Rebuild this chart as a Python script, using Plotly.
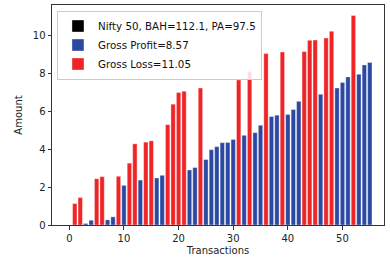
import plotly.graph_objects as go

# Cumulative gross profit (blue) and gross loss (red) at each transaction index
profit_idx = [3, 4, 7, 8, 10, 13, 16, 17, 22, 23, 25, 26, 27, 28, 29, 30, 32, 34, 35,
              37, 38, 40, 41, 42, 46, 49, 50, 51, 53, 54, 55]
profit_val = [0.08, 0.25, 0.27, 0.43, 2.09, 2.37, 2.48, 2.62, 2.90, 3.03, 3.45, 3.97, 4.13,
              4.34, 4.35, 4.51, 4.73, 4.87, 5.26, 5.72, 5.79, 5.83, 6.09, 6.52, 6.89, 7.22,
              7.52, 7.81, 7.95, 8.44, 8.57]
loss_idx = [1, 2, 5, 6, 9, 11, 12, 14, 15, 18, 19, 20, 21, 24, 31, 33, 36, 39, 43, 44,
            45, 47, 48, 52]
loss_val = [1.13, 1.45, 2.44, 2.55, 2.57, 3.26, 4.28, 4.37, 4.44, 5.29, 6.37, 6.99, 7.05,
            7.22, 7.65, 8.09, 9.04, 9.12, 9.15, 9.74, 9.75, 9.86, 10.21, 11.05]
bah_idx = [0]
bah_val = [0.0]

labels = ["Nifty 50, BAH=112.1, PA=97.5", "Gross Profit=8.57", "Gross Loss=11.05"]
x_ticks = [0, 10, 20, 30, 40, 50]
y_ticks = [0, 2, 4, 6, 8, 10]

FONT = "DejaVu Sans"
edge = dict(color="rgba(255,255,255,0.6)", width=0.6)

fig = go.Figure()
fig.add_trace(go.Bar(x=bah_idx, y=bah_val, width=0.8, name=labels[0],
                     marker=dict(color="black", line=edge)))
fig.add_trace(go.Bar(x=profit_idx, y=profit_val, width=0.8, name=labels[1],
                     marker=dict(color="#2b48a3", line=edge)))
fig.add_trace(go.Bar(x=loss_idx, y=loss_val, width=0.8, name=labels[2],
                     marker=dict(color="#ef2426", line=edge)))

fig.update_layout(
    width=390, height=261,
    margin=dict(l=52, r=6, t=5, b=36),
    barmode="overlay",
    plot_bgcolor="white", paper_bgcolor="white",
    font=dict(family=FONT, size=10, color="#222"),
    legend=dict(x=0.015, y=0.975, xanchor="left", yanchor="top",
                bgcolor="rgba(255,255,255,0.85)", bordercolor="#cccccc", borderwidth=1,
                font=dict(family=FONT, size=10.3, color="#111"),
                tracegroupgap=0, itemwidth=30),
    showlegend=True,
)
fig.update_xaxes(range=[-3.17, 57.6], tickvals=x_ticks, ticks="outside", ticklen=3.5,
                 tickcolor="#333", showline=True, linecolor="#333", linewidth=1, mirror=True,
                 showgrid=False, zeroline=False,
                 title=dict(text="Transactions", font=dict(family=FONT, size=10), standoff=4),
                 tickfont=dict(family=FONT, size=10))
fig.update_yaxes(range=[0, 11.6], tickvals=y_ticks, ticks="outside", ticklen=3.5,
                 tickcolor="#333", showline=True, linecolor="#333", linewidth=1, mirror=True,
                 showgrid=False, zeroline=False,
                 title=dict(text="Amount", font=dict(family=FONT, size=10), standoff=8),
                 tickfont=dict(family=FONT, size=10))

fig.write_html("out.html", config={"displayModeBar": False})

# remove the default page margin so the figure sits at the window's top-left corner
with open("out.html", "r", encoding="utf-8") as f:
    html = f.read()
html = html.replace("<body>", '<body style="margin:0;padding:0;overflow:hidden">', 1)
with open("out.html", "w", encoding="utf-8") as f:
    f.write(html)
